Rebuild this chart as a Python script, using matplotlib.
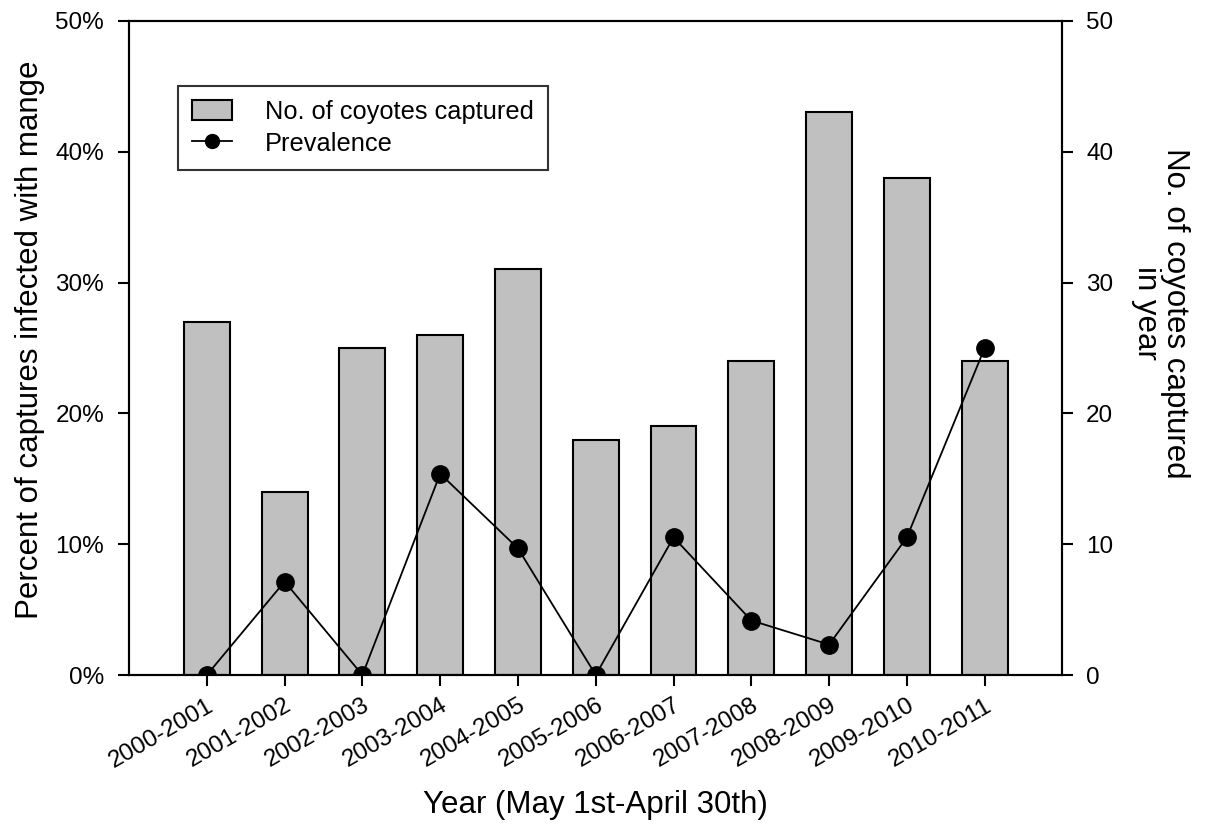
#!/usr/bin/env python3
"""Coyote captures per year (bars) and mange prevalence (line) on twin axes."""
import matplotlib
matplotlib.use("Agg")
import matplotlib.pyplot as plt
from matplotlib.patches import Patch
from matplotlib.lines import Line2D
from matplotlib.ticker import FuncFormatter

plt.rcParams["font.family"] = ["Liberation Sans", "DejaVu Sans"]

YEARS = ["2000-2001", "2001-2002", "2002-2003", "2003-2004", "2004-2005",
         "2005-2006", "2006-2007", "2007-2008", "2008-2009", "2009-2010",
         "2010-2011"]
CAPTURED = [27, 14, 25, 26, 31, 18, 19, 24, 43, 38, 24]
INFECTED = [0, 1, 0, 4, 3, 0, 2, 1, 1, 4, 6]

prevalence = [100.0 * i / n for i, n in zip(INFECTED, CAPTURED)]
x = list(range(len(YEARS)))

fig = plt.figure(figsize=(12.06, 8.35), dpi=100)
ax = fig.add_axes([0.107, 0.1916, 0.774, 0.7834])
ax2 = ax.twinx()

# bars on the right-hand axis, drawn underneath the prevalence line
ax2.bar(x, CAPTURED, width=0.59, color="#c0c0c0", edgecolor="black", linewidth=1.5)
ax2.set_ylim(0, 50)
ax2.set_yticks(range(0, 51, 10))
ax2.set_ylabel("No. of coyotes captured\nin year", fontsize=22.5, rotation=-90,
               linespacing=0.95, va="center", ha="center")
ax2.yaxis.set_label_coords(1.105, 0.553)

ax.plot(x, prevalence, color="black", linewidth=1.3, marker="o",
        markersize=12.5, markerfacecolor="black", zorder=5)
ax.set_ylim(0, 50)
ax.set_yticks(range(0, 51, 10))
ax.yaxis.set_major_formatter(FuncFormatter(lambda v, _: f"{v:.0f}%"))
ax.set_ylabel("Percent of captures infected with mange", fontsize=22.5,
              va="center", ha="center")
ax.yaxis.set_label_coords(-0.106, 0.512)
ax.set_xlim(-1, 11)
ax.set_xticks(x)
ax.set_xticklabels(YEARS, rotation=30, ha="right", rotation_mode="anchor")
ax.set_xlabel("Year (May 1st-April 30th)", fontsize=22.5, va="center")
ax.xaxis.set_label_coords(0.5, -0.199)

ax.set_zorder(ax2.get_zorder() + 1)
ax.patch.set_visible(False)

for a in (ax, ax2):
    for s in a.spines.values():
        s.set_linewidth(1.5)
    a.tick_params(axis="both", direction="out", length=8, width=1.5,
                  labelsize=17.5)
ax.tick_params(axis="y", pad=10)
ax.tick_params(axis="x", pad=6)
ax2.tick_params(axis="y", pad=9)

handles = [
    Patch(facecolor="#c0c0c0", edgecolor="black", linewidth=1.5),
    Line2D([0], [0], color="black", linewidth=1.3, marker="o", markersize=10),
]
leg = ax.legend(handles, ["No. of coyotes captured", "Prevalence"],
                loc="upper left", bbox_to_anchor=(0.1476, 0.897),
                bbox_transform=fig.transFigure, borderaxespad=0,
                fontsize=18.3, frameon=True, fancybox=False, handlelength=1.56,
                handleheight=0.8, handletextpad=1.3, borderpad=0.55,
                labelspacing=0.3)
leg.get_frame().set_edgecolor("black")
leg.get_frame().set_linewidth(1.5)

fig.savefig("out.png", dpi=100)
